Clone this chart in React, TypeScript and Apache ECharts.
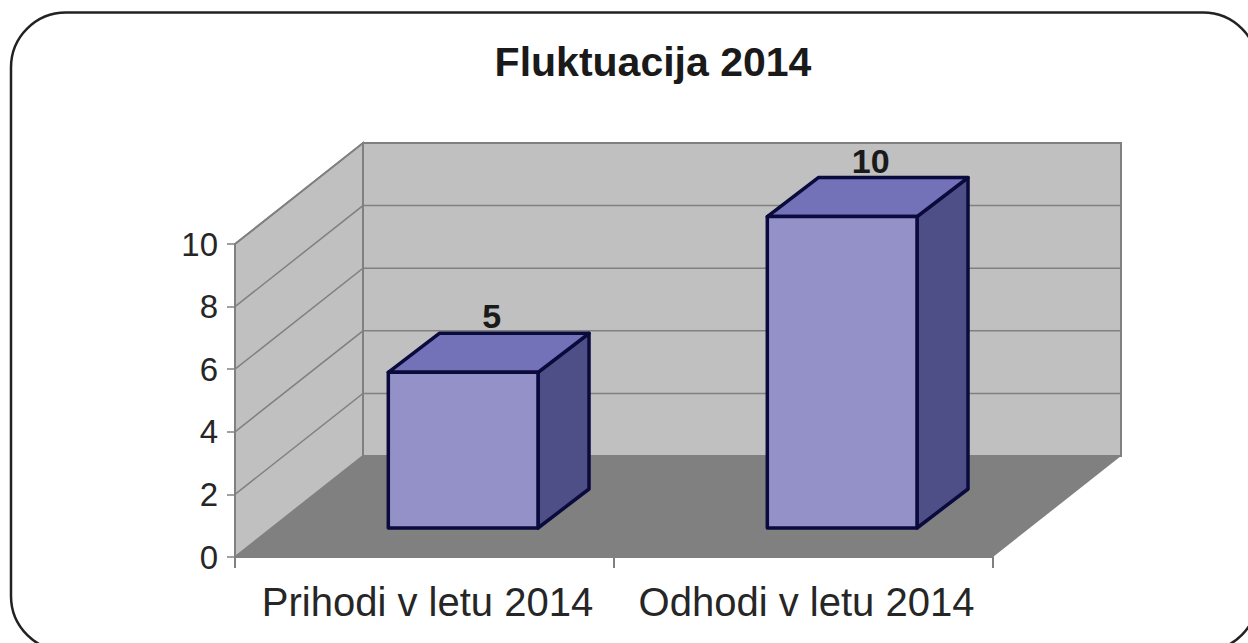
import React, { useEffect, useRef } from "react";
import * as echarts from "echarts";

const titleText = "Fluktuacija 2014";
const categories = ["Prihodi v letu 2014", "Odhodi v letu 2014"];
const barValues = [5, 10];
const gridValues = [0, 2, 4, 6, 8, 10];

const FONT = '"Liberation Sans", Arial, sans-serif';
const DEPTH_X = 128;
const DEPTH_Y = 101;

function renderWalls(params: any, api: any) {
  const cs = params.coordSys;
  const x0 = cs.x;
  const x1 = cs.x + cs.width;
  const yOf = (v: number) => api.coord([0, v])[1];
  const y0 = yOf(0);
  const yTop = yOf(10);
  const wallLine = { stroke: "#808080", lineWidth: 2 };
  const children: any[] = [
    // back wall
    {
      type: "polygon",
      shape: { points: [[x0 + DEPTH_X, y0 - DEPTH_Y], [x1 + DEPTH_X, y0 - DEPTH_Y], [x1 + DEPTH_X, yTop - DEPTH_Y], [x0 + DEPTH_X, yTop - DEPTH_Y]] },
      style: { fill: "#c0c0c0", ...wallLine },
    },
    // left wall
    {
      type: "polygon",
      shape: { points: [[x0, y0], [x0 + DEPTH_X, y0 - DEPTH_Y], [x0 + DEPTH_X, yTop - DEPTH_Y], [x0, yTop]] },
      style: { fill: "#c0c0c0", ...wallLine },
    },
    // floor
    {
      type: "polygon",
      shape: { points: [[x0, y0], [x1, y0], [x1 + DEPTH_X, y0 - DEPTH_Y], [x0 + DEPTH_X, y0 - DEPTH_Y]] },
      style: { fill: "#808080" },
    },
  ];
  gridValues.forEach((v) => {
    if (v === 0) return;
    const y = yOf(v);
    children.push({
      type: "polyline",
      shape: { points: [[x0, y], [x0 + DEPTH_X, y - DEPTH_Y], [x1 + DEPTH_X, y - DEPTH_Y]] },
      style: { fill: "none", stroke: "#808080", lineWidth: 1.5 },
    });
  });
  return { type: "group", children };
}

function renderBar(params: any, api: any) {
  const v = api.value(1);
  const [cx, yv] = api.coord([api.value(0), v]);
  const y0 = api.coord([api.value(0), 0])[1];
  const band = api.size([1, 0])[0];
  const w = band * 0.395;
  const left = cx + band * 0.102 - w / 2;
  const right = left + w;
  const bottom = y0 - 29;
  const top = bottom - (y0 - yv) * 0.995;
  const dx = 51;
  const dy = 39;
  const edge = { stroke: "#0a0a3c", lineWidth: 3.5, lineJoin: "round" };
  return {
    type: "group",
    children: [
      {
        type: "text",
        style: {
          text: String(v),
          x: left + w / 2 + dx / 2 + 3,
          y: top - 56,
          align: "center",
          verticalAlign: "middle",
          fontFamily: FONT,
          fontWeight: "bold",
          fontSize: 34,
          fill: "#1a1a1a",
        },
      },
      {
        type: "polygon",
        shape: { points: [[right, bottom], [right + dx, bottom - dy], [right + dx, top - dy], [right, top]] },
        style: { fill: "#4f4f88", ...edge },
      },
      {
        type: "polygon",
        shape: { points: [[left, top], [right, top], [right + dx, top - dy], [left + dx, top - dy]] },
        style: { fill: "#7371b8", ...edge },
      },
      {
        type: "polygon",
        shape: { points: [[left, bottom], [right, bottom], [right, top], [left, top]] },
        style: { fill: "#9491c8", ...edge },
      },
    ],
  };
}

export default function App() {
  const ref = useRef<HTMLDivElement>(null);
  useEffect(() => {
    const chart = echarts.init(ref.current!, undefined, { renderer: "svg" });
    chart.setOption({
      animation: false,
      backgroundColor: "#ffffff",
      title: {
        text: titleText,
        left: 648,
        top: 36,
        textAlign: "center",
        textStyle: { fontFamily: FONT, fontWeight: "bold", fontSize: 41, color: "#1a1a1a" },
      },
      graphic: [
        {
          type: "rect",
          shape: { x: 11, y: 12.5, width: 1247, height: 638.5, r: 55 },
          style: { fill: "none", stroke: "#222222", lineWidth: 2.5 },
          silent: true,
        },
      ],
      grid: { left: 235, right: 255, top: 244, bottom: 86 },
      xAxis: {
        type: "category",
        data: categories,
        z: 5,
        axisLine: { show: true, lineStyle: { color: "#808080", width: 2 } },
        axisTick: { show: true, length: 11, lineStyle: { color: "#808080", width: 2 } },
        axisLabel: { fontFamily: FONT, fontSize: 40, color: "#262626", margin: 25, interval: 0, padding: [0, 0, 0, 6] },
      },
      yAxis: {
        type: "value",
        min: 0,
        max: 10,
        interval: 2,
        z: 5,
        splitLine: { show: false },
        axisLine: { show: true, lineStyle: { color: "#808080", width: 2 } },
        axisTick: { show: true, length: 8, lineStyle: { color: "#808080", width: 1.5 } },
        axisLabel: { fontFamily: FONT, fontSize: 33, color: "#262626", margin: 17 },
      },
      series: [
        {
          type: "custom",
          name: "walls",
          silent: true,
          renderItem: renderWalls,
          data: [[0, 0]],
          z: 1,
        },
        {
          type: "custom",
          name: "Fluktuacija",
          renderItem: renderBar,
          encode: { x: 0, y: 1 },
          data: barValues.map((v, i) => [i, v]),
          z: 3,
        },
      ],
    });
    return () => chart.dispose();
  }, []);
  return <div ref={ref} style={{ position: "fixed", left: 0, top: 0, width: 1248, height: 643 }} />;
}
